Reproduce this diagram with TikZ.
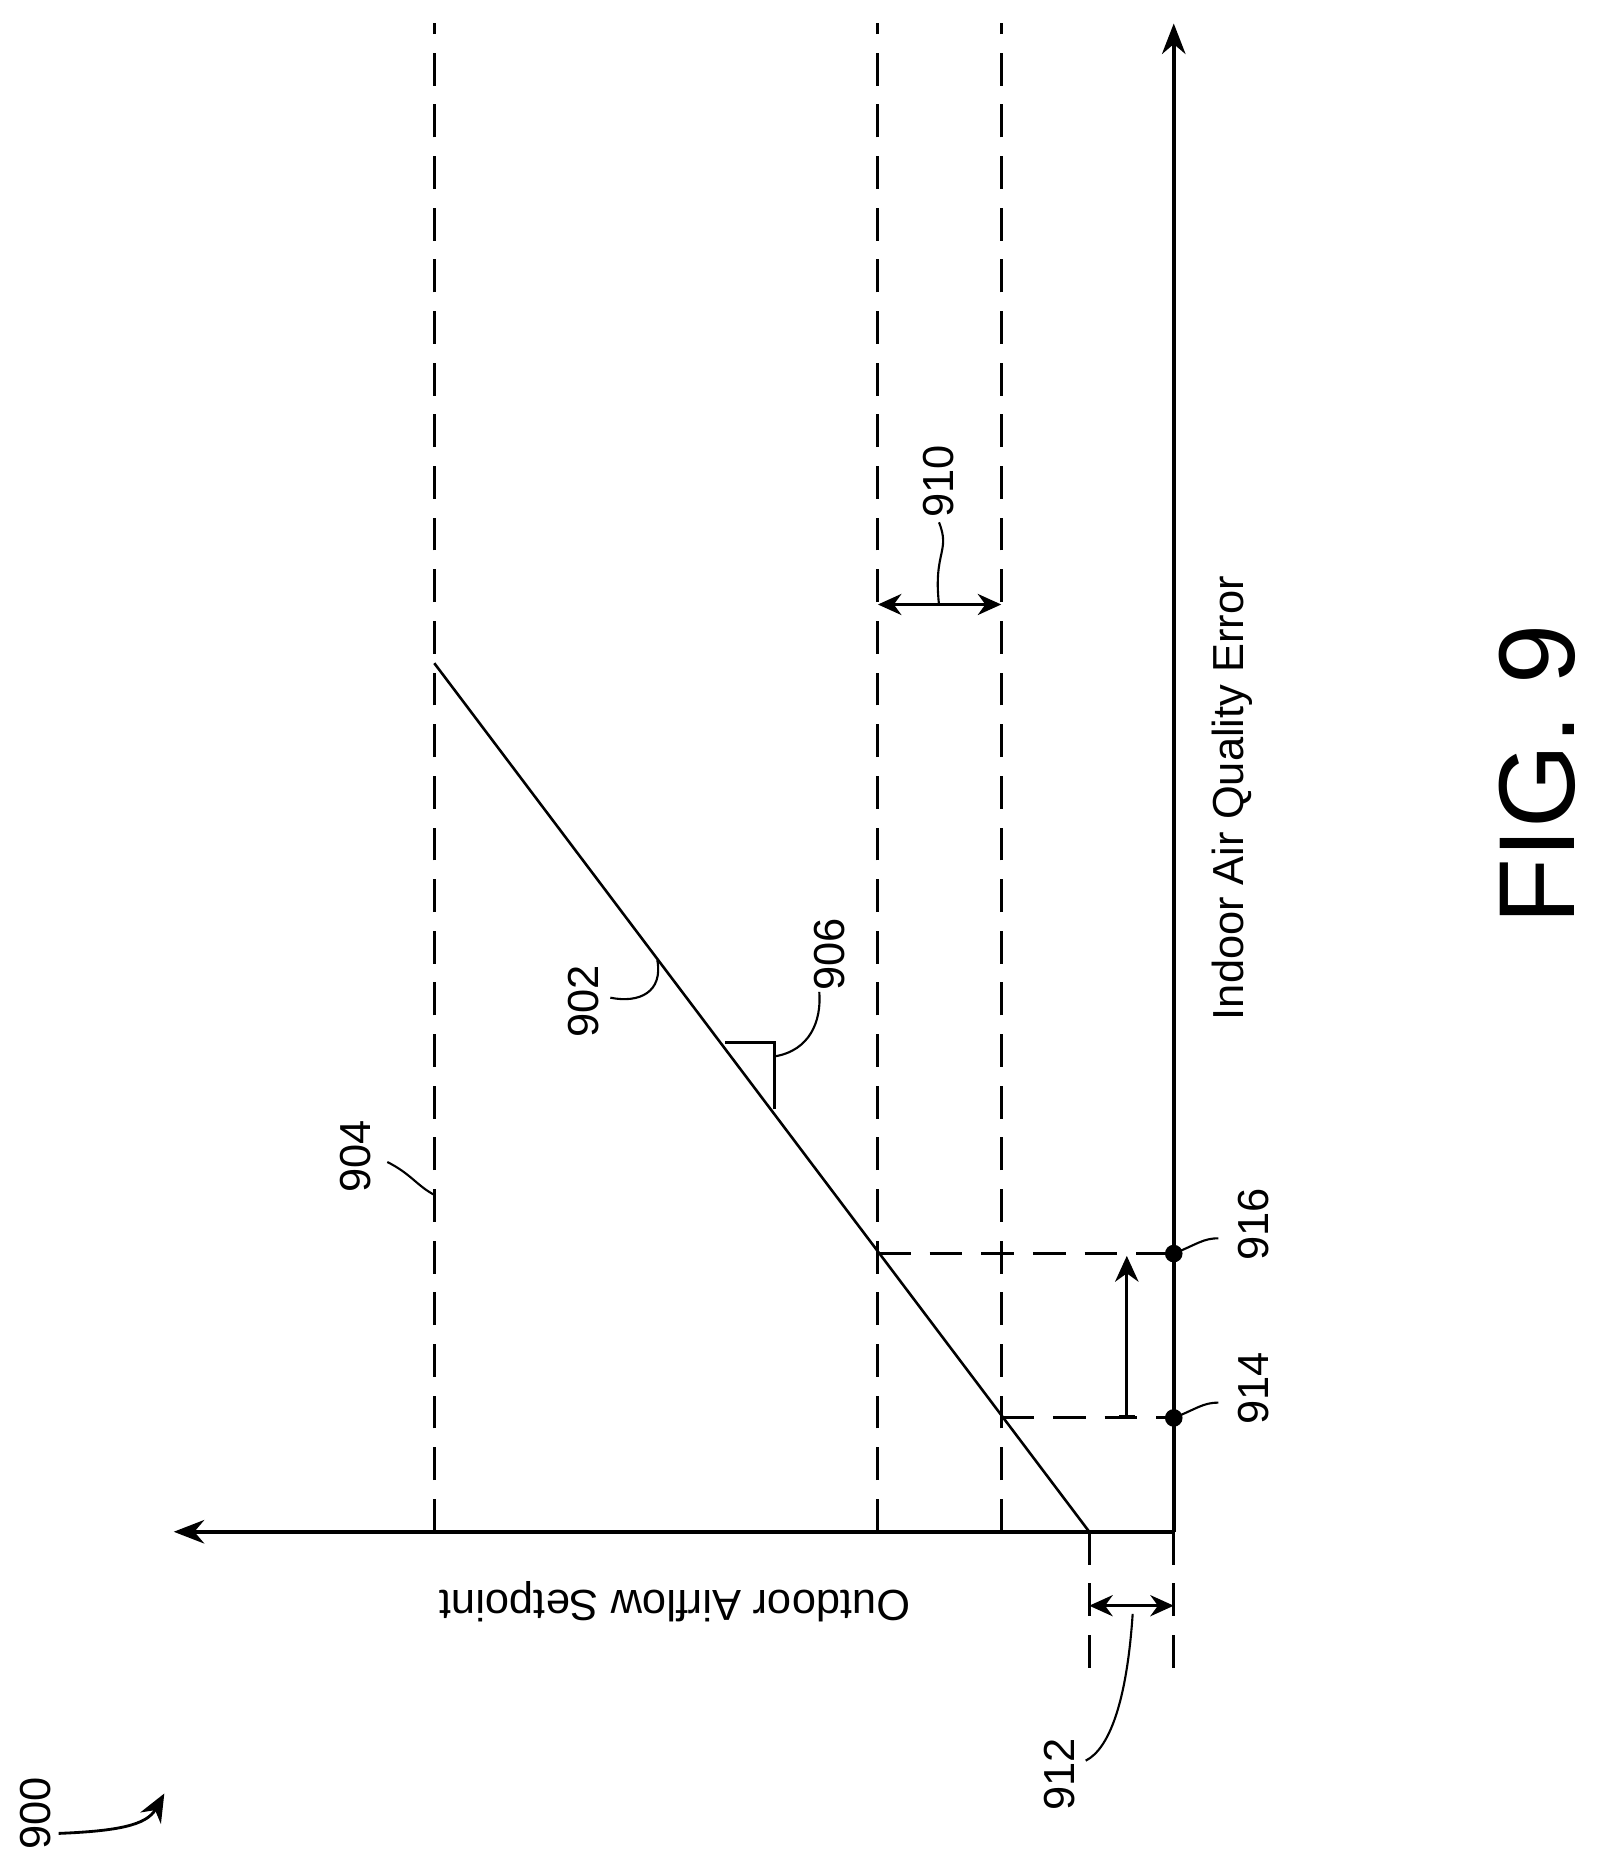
\documentclass[tikz,border=0pt]{standalone}
\usepackage{fontspec}
\setmainfont{Liberation Sans}
\usetikzlibrary{arrows.meta}
\begin{document}
\begin{tikzpicture}[x=1pt,y=-1pt,
    axis/.style={line width=3.2pt,-{Stealth[length=26pt,width=20pt]}},
    guide/.style={line width=2.6pt,dash pattern=on 28pt off 16pt},
    dim/.style={line width=2.6pt,{Stealth[length=20pt,width=18pt]}-{Stealth[length=20pt,width=18pt]}},
    lead/.style={line width=1.8pt},
    lbl/.style={font=\fontsize{37}{40}\selectfont,rotate=90,inner sep=1pt}]
  \useasboundingbox (0,0) rectangle (1363,1577);
  % axes
  \coordinate (O) at (1000,1305);
  \draw[axis] (O) -- (1000,20);
  \draw[axis] (O) -- (148,1305);
  % dashed limits
  \draw[guide] (370,1305) -- (370,20);
  \draw[guide] (748,1305) -- (748,20);
  \draw[guide] (853,1305) -- (853,20);
  \draw[guide] (928,1305) -- (928,1428);
  \draw[guide] (1000,1305) -- (1000,1428);
  % setpoint line
  \coordinate (p0) at (928,1305);
  \coordinate (p1) at (370,565);
  \draw[line width=2.2pt] (p0) -- (p1);
  \draw[line width=2.2pt] (618,888) -- (660,888) -- (660,945);
  % band points
  \draw[guide] (853,1208) -- (1000,1208);
  \draw[guide] (748,1068) -- (1000,1068);
  \fill (1000,1208) circle (7.5pt);
  \fill (1000,1068) circle (7.5pt);
  \draw[line width=2.4pt,{Bar[width=14pt]}-{Stealth[length=22pt,width=20pt]}] (960,1208) -- (960,1070);
  % dimensions
  \draw[dim] (748,515) -- (853,515);
  \draw[dim] (928,1368) -- (1000,1368);
  % leaders
  \draw[lead] (800,515) .. controls (795,470) and (810,470) .. (800,445);
  \draw[lead] (965,1375) .. controls (960,1450) and (945,1490) .. (925,1500);
  \draw[lead] (370,1018) .. controls (355,1010) and (350,1000) .. (330,990);
  \draw[lead] (560,818) .. controls (565,845) and (545,855) .. (520,850);
  \draw[lead] (660,900) .. controls (690,895) and (700,870) .. (698,845);
  \draw[lead] (1000,1208) .. controls (1020,1200) and (1025,1195) .. (1038,1195);
  \draw[lead] (1000,1068) .. controls (1020,1060) and (1025,1055) .. (1038,1055);
  \draw[line width=2.4pt,-{Stealth[length=24pt,width=20pt]}] (50,1562) .. controls (100,1560) and (125,1555) .. (140,1528);
  % labels
  \node[lbl] (l910) at (800,410) {910};
  \node[lbl] (l912) at (903,1512) {912};
  \node[lbl] (l914) at (1068,1183) {914};
  \node[lbl] (l916) at (1068,1043) {916};
  \node[lbl] (l904) at (303,985) {904};
  \node[lbl] (l902) at (497,853) {902};
  \node[lbl] (l906) at (707,813) {906};
  \node[lbl] (l900) at (30,1545) {900};
  \node[lbl] (xlab) at (1050,680) {Indoor Air Quality Error};
  \node[font=\fontsize{37}{40}\selectfont,rotate=180] (ylab) at (575,1365) {Outdoor Airflow Setpoint};
  \node[font=\fontsize{92}{96}\selectfont,rotate=90] (fig) at (1310,660) {FIG. 9};
\end{tikzpicture}
\end{document}
